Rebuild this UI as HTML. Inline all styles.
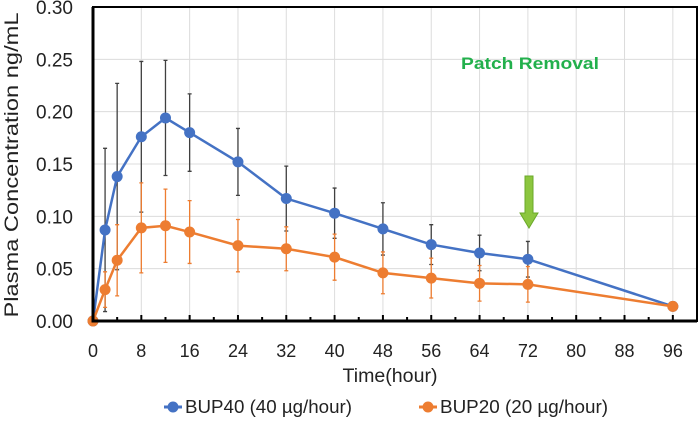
<!DOCTYPE html>
<html><head><meta charset="utf-8"><style>
body{margin:0;background:#fff}
svg text{font-family:"Liberation Sans",sans-serif;fill:#222}
</style></head><body>
<svg id="chart" width="700" height="418" xmlns="http://www.w3.org/2000/svg">
<g id="grid"></g>
<g id="series"></g>
<g id="axes"></g>
<text x="0" y="0" transform="translate(18,165) rotate(-90)" text-anchor="middle" font-size="19" textLength="305" lengthAdjust="spacingAndGlyphs">Plasma Concentration ng/mL</text>
<text x="390" y="382" text-anchor="middle" font-size="19" textLength="95" lengthAdjust="spacingAndGlyphs">Time(hour)</text>
<text x="530" y="69" text-anchor="middle" font-size="17" font-weight="bold" style="fill:#22b04c" textLength="138" lengthAdjust="spacingAndGlyphs">Patch Removal</text>
<polygon points="525,176 533,176 533,213 538,213 529,228 520,213 525,213" fill="#8cc63f" stroke="#6aa82a" stroke-width="1"/>
<g>
<g><line x1="164" y1="407" x2="182" y2="407" stroke="#4472c4" stroke-width="3"/><circle cx="173" cy="407" r="5.5" fill="#4472c4"/><text x="185" y="413" font-size="18" textLength="167" lengthAdjust="spacingAndGlyphs">BUP40 (40 µg/hour)</text></g>
<g><line x1="419" y1="407" x2="437" y2="407" stroke="#ed7d31" stroke-width="3"/><circle cx="428" cy="407" r="5.5" fill="#ed7d31"/><text x="440" y="413" font-size="18" textLength="168" lengthAdjust="spacingAndGlyphs">BUP20 (20 µg/hour)</text></g>
</g>
</svg>
<script>
const times=[0,2,4,8,12,16,24,32,40,48,56,64,72,96];
const bup40=[0,0.087,0.138,0.176,0.194,0.180,0.152,0.117,0.103,0.088,0.073,0.065,0.059,0.014];
const bup40Sd=[0,0.078,0.089,0.072,0.055,0.037,0.032,0.031,0.024,0.025,0.019,0.017,0.017,0];
const bup20=[0,0.030,0.058,0.089,0.091,0.085,0.072,0.069,0.061,0.046,0.041,0.036,0.035,0.014];
const bup20Sd=[0,0.017,0.034,0.043,0.035,0.030,0.025,0.021,0.022,0.020,0.019,0.017,0.017,0];
const xTicks=[0,8,16,24,32,40,48,56,64,72,80,88,96];
const yTicks=[0,0.05,0.10,0.15,0.20,0.25,0.30];
const NS="http://www.w3.org/2000/svg";
const X0=93,X1=697,Y0=321,Y1=7;
const xs=t=>X0+t/100*(X1-X0);
const ys=v=>Y0-v/0.30*(Y0-Y1);
function mk(tag,attrs,parent){const e=document.createElementNS(NS,tag);for(const k in attrs)e.setAttribute(k,attrs[k]);parent.appendChild(e);return e;}
const grid=document.getElementById('grid'),ser=document.getElementById('series'),axes=document.getElementById('axes');
xTicks.forEach(t=>{const l=mk('line',{x1:xs(t),x2:xs(t),y1:Y1,y2:Y0,stroke:'#dcdcdc','stroke-width':1},grid);


const tx=mk('text',{x:xs(t),y:357,'text-anchor':'middle','font-size':18},axes);tx.textContent=t;

});
yTicks.forEach(v=>{const l=mk('line',{x1:X0,x2:X1,y1:ys(v),y2:ys(v),stroke:'#dcdcdc','stroke-width':1},grid);


const tx=mk('text',{x:73,y:ys(v)+7,'text-anchor':'end','font-size':19},axes);tx.textContent=v.toFixed(2);

});
function drawSeries(vals,sd,color,errColor,name){
  vals.forEach((v,i)=>{if(sd[i]>0){const t=times[i];const e=mk('path',{d:`M${xs(t)},${ys(v+sd[i])}V${ys(v-sd[i])}M${xs(t)-2},${ys(v+sd[i])}h4M${xs(t)-2},${ys(v-sd[i])}h4`,stroke:errColor,'stroke-width':1.3,fill:'none'},ser);
  
  }});
  const p=mk('polyline',{points:vals.map((v,i)=>xs(times[i])+','+ys(v)).join(' '),fill:'none',stroke:color,'stroke-width':2.5},ser);
  
  
  vals.forEach((v,i)=>{const c=mk('circle',{cx:xs(times[i]),cy:ys(v),r:5.5,fill:color},ser);
  
  });
}
drawSeries(bup40,bup40Sd,'#4472c4','#404040','bup40');
drawSeries(bup20,bup20Sd,'#ed7d31','#ed7d31','bup20');
const fr=mk('path',{d:`M${X0},${Y1}H${X1}V${Y0}H${X0}Z`,fill:'none',stroke:'#000','stroke-width':2},axes);


const ax=mk('path',{d:`M${X0},${Y1}V${Y0}H${X1}`,fill:'none',stroke:'#000','stroke-width':3},axes);


for(let t=4;t<100;t+=4){const l=mk('line',{x1:xs(t),x2:xs(t),y1:Y0,y2:Y0-(t%8===0?6:4),stroke:'#000','stroke-width':2},axes);

}
</script>
</body></html>
